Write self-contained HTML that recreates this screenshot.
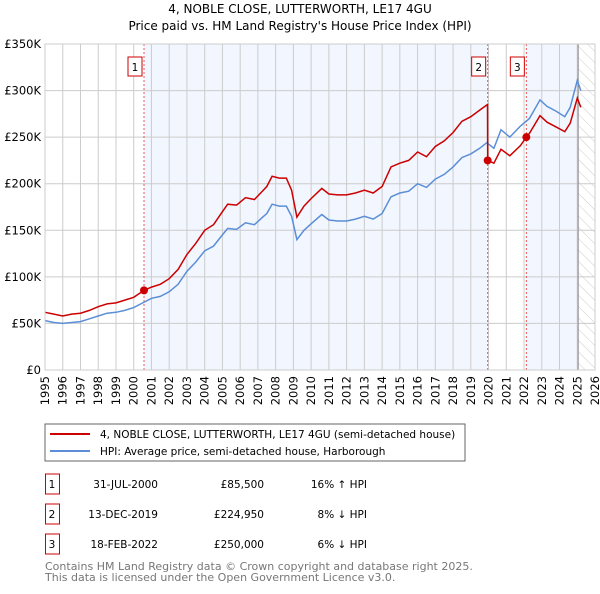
<!DOCTYPE html>
<html><head><meta charset="utf-8"><style>
body{margin:0;background:#fff;font-family:"DejaVu Sans","Liberation Sans",sans-serif;}
svg text{font-family:"DejaVu Sans","Liberation Sans",sans-serif;}
</style></head><body>
<svg id="c" width="600" height="590" xmlns="http://www.w3.org/2000/svg">
<defs><pattern id="hatch" width="8" height="8" patternUnits="userSpaceOnUse" patternTransform="rotate(-45)"><line x1="0" y1="0" x2="0" y2="8" stroke="#ccc" stroke-width="1"/></pattern></defs>
<text x="300" y="13" text-anchor="middle" font-size="12">4, NOBLE CLOSE, LUTTERWORTH, LE17 4GU</text>
<text x="300" y="30" text-anchor="middle" font-size="12">Price paid vs. HM Land Registry's House Price Index (HPI)</text>
<g id="plot"></g>
<rect x="45" y="424" width="420" height="37" fill="#fff" stroke="#666"/>
<line x1="50" y1="434" x2="90" y2="434" stroke="#cc0000" stroke-width="2"/>
<text x="100" y="438" font-size="10.5">4, NOBLE CLOSE, LUTTERWORTH, LE17 4GU (semi-detached house)</text>
<line x1="50" y1="451" x2="90" y2="451" stroke="#5b8ed6" stroke-width="2"/>
<text x="100" y="455" font-size="10.5">HPI: Average price, semi-detached house, Harborough</text>
<g id="tbl" font-size="10.5"></g>
<text x="45" y="570" font-size="11" fill="#777">Contains HM Land Registry data © Crown copyright and database right 2025.</text>
<text x="45" y="581" font-size="11" fill="#777">This data is licensed under the Open Government Licence v3.0.</text>
</svg>
<script>
const hpiYears=[1995.0,1995.5,1996.0,1996.5,1997.0,1997.5,1998.0,1998.5,1999.0,1999.5,2000.0,2000.6,2001.0,2001.5,2002.0,2002.5,2003.0,2003.5,2004.0,2004.5,2005.0,2005.3,2005.8,2006.3,2006.8,2007.2,2007.5,2007.8,2008.2,2008.6,2008.9,2009.2,2009.6,2010.0,2010.6,2011.0,2011.5,2012.0,2012.5,2013.0,2013.5,2014.0,2014.5,2015.0,2015.5,2016.0,2016.5,2017.0,2017.5,2018.0,2018.5,2019.0,2019.5,2019.9,2020.3,2020.7,2021.2,2021.8,2022.3,2022.9,2023.3,2023.8,2024.3,2024.6,2025.0,2025.2];
const hpiValues=[53,51,50,51,52,55,58,61,62,64,67,73,77,79,84,92,106,116,128,133,145,152,151,158,156,163,168,178,176,176,165,140,150,157,167,161,160,160,162,165,162,168,186,190,192,200,196,205,210,218,228,232,238,244,238,258,250,262,270,290,283,278,272,282,311,300];
const priceYears=[1995.0,1995.5,1996.0,1996.5,1997.0,1997.5,1998.0,1998.5,1999.0,1999.5,2000.0,2000.58,2001.0,2001.5,2002.0,2002.5,2003.0,2003.5,2004.0,2004.5,2005.0,2005.3,2005.8,2006.3,2006.8,2007.2,2007.5,2007.8,2008.2,2008.6,2008.9,2009.2,2009.6,2010.0,2010.6,2011.0,2011.5,2012.0,2012.5,2013.0,2013.5,2014.0,2014.5,2015.0,2015.5,2016.0,2016.5,2017.0,2017.5,2018.0,2018.5,2019.0,2019.5,2019.94,2019.95,2020.3,2020.7,2021.2,2021.8,2022.13,2022.3,2022.9,2023.3,2023.8,2024.3,2024.6,2025.0,2025.2];
const priceValues=[62,60,58,60,61,64,68,71,72,75,78,85.5,89,92,98,108,124,136,150,156,170,178,177,185,183,191,197,208,206,206,193,164,176,184,195,189,188,188,190,193,190,197,218,222,225,234,229,240,246,255,267,272,279,285,225,222,237,230,241,250,254,273,266,261,256,265,292,282];
const saleYears=[2000.58,2019.95,2022.13];
const saleValues=[85.5,224.95,250];
const saleLabels=["1","2","3"];
const saleDates=["31-JUL-2000","13-DEC-2019","18-FEB-2022"];
const salePrices=["£85,500","£224,950","£250,000"];
const saleDiffs=["16% ↑ HPI","8% ↓ HPI","6% ↓ HPI"];
const yTicks=[0,50,100,150,200,250,300,350];
const yTickLabels=["£0","£50K","£100K","£150K","£200K","£250K","£300K","£350K"];
const xTicks=[1995,1996,1997,1998,1999,2000,2001,2002,2003,2004,2005,2006,2007,2008,2009,2010,2011,2012,2013,2014,2015,2016,2017,2018,2019,2020,2021,2022,2023,2024,2025,2026];
const dataEnd=2025.05;

const X0=45,X1=595,Y0=370,Y1=44;
const xs=y=>X0+(y-1995)/(2026-1995)*(X1-X0);
const ys=v=>Y0-v/350*(Y0-Y1);
const NS="http://www.w3.org/2000/svg";
const plot=document.getElementById('plot');
function mk(tag,attrs,parent){const e=document.createElementNS(NS,tag);for(const k in attrs)e.setAttribute(k,attrs[k]);(parent||plot).appendChild(e);return e;}

let r=mk('rect',{x:X0,y:Y1,width:X1-X0,height:Y0-Y1,fill:'#fff'});


// ownership shading
const shades=[[saleYears[0],saleYears[1]],[saleYears[2],dataEnd]];
shades.forEach((s,i)=>{const e=mk('rect',{x:xs(s[0]),y:Y1,width:xs(s[1])-xs(s[0]),height:Y0-Y1,fill:'#eef3fd',opacity:0.75});

});
let h=mk('rect',{x:xs(dataEnd),y:Y1,width:X1-xs(dataEnd),height:Y0-Y1,fill:'url(#hatch)'});


yTicks.forEach((t,i)=>{const l=mk('line',{x1:X0,x2:X1,y1:ys(t),y2:ys(t),stroke:'#ccc','stroke-width':1});


const tx=mk('text',{x:X0-4,y:ys(t)+4,'text-anchor':'end','font-size':11.5});tx.textContent=yTickLabels[i];

});
xTicks.forEach(t=>{const l=mk('line',{x1:xs(t),x2:xs(t),y1:Y1,y2:Y0,stroke:'#ccc','stroke-width':1});


const tx=mk('text',{x:0,y:0,'text-anchor':'end','font-size':11.5,transform:`translate(${xs(t)+4},${Y0+6}) rotate(-90)`});tx.textContent=t;

});
let bl=mk('line',{x1:xs(dataEnd),x2:xs(dataEnd),y1:Y1,y2:Y0,stroke:'#888','stroke-width':1});


saleYears.forEach((s,i)=>{const l=mk('line',{x1:xs(s),x2:xs(s),y1:Y1,y2:Y0,stroke:'#e55','stroke-width':1,'stroke-dasharray':'2,2'});


const b=mk('rect',{x:xs(s)-16,y:57,width:14,height:19,fill:'#fff',stroke:'#cc0000'});


const t=mk('text',{x:xs(s)-9,y:71,'text-anchor':'middle','font-size':10.5});t.textContent=saleLabels[i];

});
const path=(xa,va)=>xa.map((x,i)=>(i?'L':'M')+xs(x).toFixed(1)+','+ys(va[i]).toFixed(1)).join('');
let hp=mk('path',{d:path(hpiYears,hpiValues),fill:'none',stroke:'#5b8ed6','stroke-width':1.5});


let pp=mk('path',{d:path(priceYears,priceValues),fill:'none',stroke:'#cc0000','stroke-width':1.5});


saleYears.forEach((s,i)=>{const c=mk('circle',{cx:xs(s),cy:ys(saleValues[i]),r:4,fill:'#cc0000'});

});
let fr=mk('rect',{x:X0,y:Y1,width:X1-X0,height:Y0-Y1,fill:'none',stroke:'#ccc'});



const tbl=document.getElementById('tbl');
saleLabels.forEach((lab,i)=>{const cy=484+i*30;
const b=mk('rect',{x:45.5,y:cy-10,width:14,height:20,fill:'#fff',stroke:'#cc0000'},tbl);


const cols=[[52,'middle',lab,'table-row-number'],[158,'end',saleDates[i],'table-date'],[264,'end',salePrices[i],'table-price'],[367,'end',saleDiffs[i],'table-hpi-diff']];
cols.forEach(c=>{const t=mk('text',{x:c[0],y:cy+4,'text-anchor':c[1]},tbl);t.textContent=c[2];

});});
</script>
</body></html>
